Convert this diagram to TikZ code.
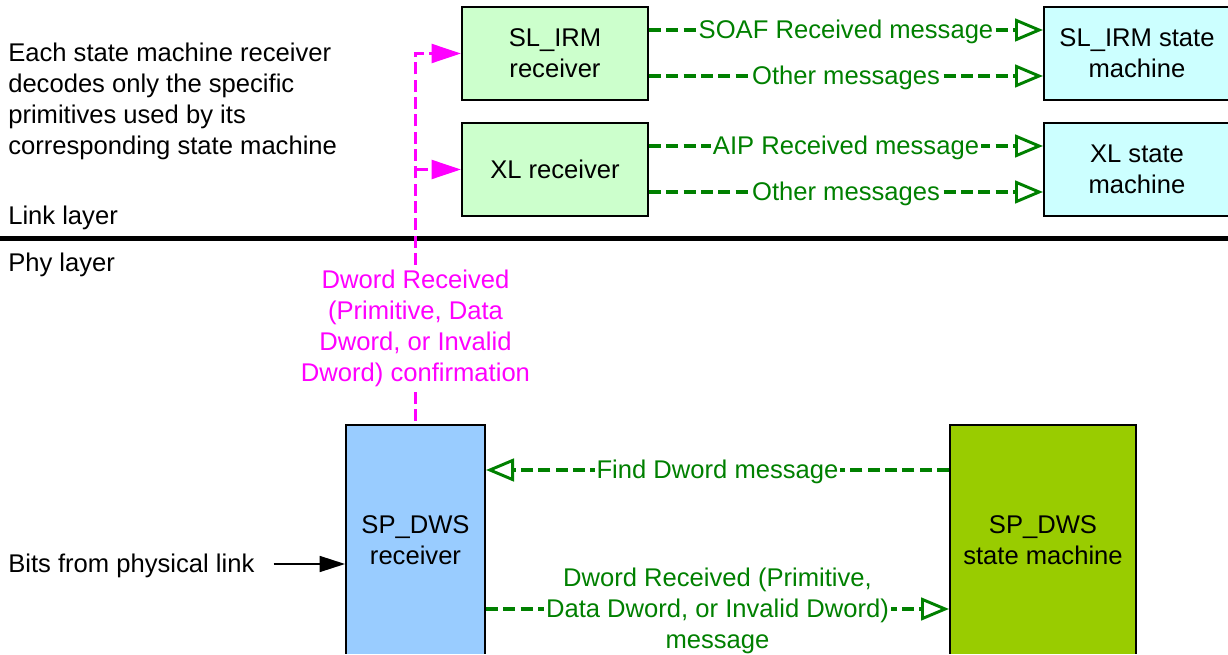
\documentclass[tikz,border=0pt]{standalone}
\usepackage{fontspec}
\setmainfont{Liberation Sans}
\usetikzlibrary{arrows.meta,calc}
\definecolor{gline}{RGB}{0,128,0}
\definecolor{mag}{RGB}{255,0,255}
\definecolor{lgreen}{RGB}{204,255,204}
\definecolor{lcyan}{RGB}{204,255,255}
\definecolor{lblue}{RGB}{153,204,255}
\definecolor{ygreen}{RGB}{153,204,0}
\tikzset{
  box/.style={draw=black, line width=1.5pt, minimum width=139.5pt, minimum height=69.75pt, inner sep=0pt, align=center},
  tallbox/.style={draw=black, line width=1.5pt, minimum height=172.5pt, inner sep=0pt, align=center},
  gconn/.style={draw=gline, line width=2.4pt, dash pattern=on 9pt off 4pt, -{Triangle[open, length=21pt, width=17pt, line width=2.2pt]}},
  glabel/.style={text=gline, fill=white, inner sep=1.5pt, align=center, yshift=-1.5pt},
  mconn/.style={draw=mag, line width=2.4pt, dash pattern=on 9pt off 4pt},
  mtip/.style={-{Triangle[length=22pt, width=14pt]}},
  mlabel/.style={text=mag, fill=white, inner sep=2pt, align=center},
  plain/.style={inner sep=0pt, align=left, anchor=west}
}
\begin{document}
\begin{tikzpicture}[x=0.75pt, y=-0.75pt, font={\fontsize{19.2pt}{23.25pt}\selectfont}]
\useasboundingbox (0,0) rectangle (1228,655);
\clip (-20,-20) rectangle (1228,653);

% layer separator
\draw[line width=3.75pt] (0,239) -- (1228,239);

% texts
\node[plain] (note) at (8,101.5) {Each state machine receiver\\decodes only the specific\\primitives used by its\\corresponding state machine};
\node[plain] (link) at (8,217.5) {Link layer};
\node[plain] (phy) at (8,264.5) {Phy layer};
\node[plain] (bits) at (8,566) {Bits from physical link};

% boxes
\node[box, fill=lgreen] (slr) at (555,53.5) {SL\_IRM\\receiver};
\node[box, fill=lgreen] (xlr) at (555,169.5) {XL receiver};
\node[box, fill=lcyan] (slsm) at (1137,53.5) {SL\_IRM state\\machine};
\node[box, fill=lcyan] (xlsm) at (1137,169.5) {XL state\\machine};
\node[tallbox, minimum width=104.25pt, fill=lblue] (sprx) at (415.5,540) {SP\_DWS\\receiver};
\node[tallbox, minimum width=139.5pt, fill=ygreen] (spsm) at (1043,540) {SP\_DWS\\state machine};

% green connectors (link layer)
\draw[gconn] ($(slr.east)+(0,-23.5)$) -- node[glabel]{SOAF Received message} ($(slsm.west)+(0,-23.5)$);
\draw[gconn] ($(slr.east)+(0,22.5)$) -- node[glabel]{Other messages} ($(slsm.west)+(0,22.5)$);
\draw[gconn] ($(xlr.east)+(0,-23.5)$) -- node[glabel]{AIP Received message} ($(xlsm.west)+(0,-23.5)$);
\draw[gconn] ($(xlr.east)+(0,22.5)$) -- node[glabel]{Other messages} ($(xlsm.west)+(0,22.5)$);

% green connectors (phy layer)
\draw[gconn] ($(spsm.west)+(0,-70)$) -- node[glabel]{Find Dword message} ($(sprx.east)+(0,-70)$);
\draw[gconn] ($(sprx.east)+(0,69)$) -- node[glabel]{Dword Received (Primitive,\\Data Dword, or Invalid Dword)\\message} ($(spsm.west)+(0,69)$);

% bits arrow
\draw[line width=1.2pt, -{Triangle[length=19pt, width=12pt]}] ($(bits.east)+(19,-2)$) -- ($(sprx.west |- bits.east)+(0,-2)$);

% magenta confirmation
\coordinate (mstart) at ($(sprx.north)+(0,-3)$);
\draw[mconn, mtip] (mstart) -- node[mlabel, pos=0.252]{Dword Received\\(Primitive, Data\\Dword, or Invalid\\Dword) confirmation} (mstart |- slr.west) -- (slr.west);
\draw[mconn, mtip] (mstart |- xlr.west) -- (xlr.west);
\end{tikzpicture}
\end{document}
